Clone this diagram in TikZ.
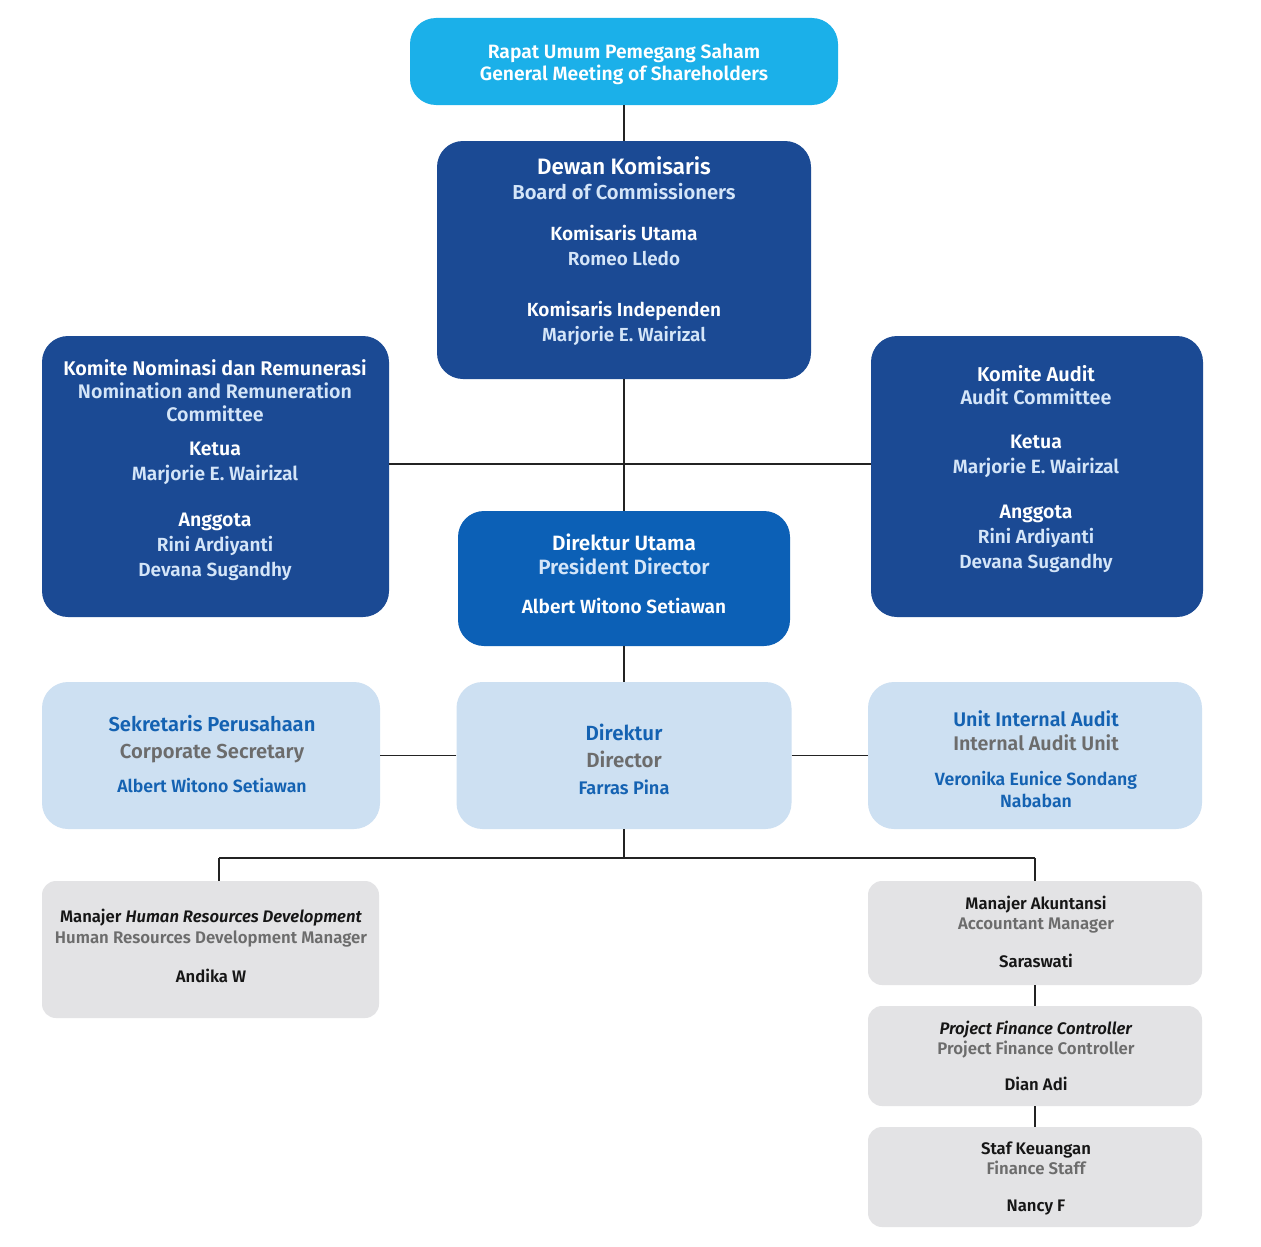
\documentclass[tikz,border=0pt]{standalone}
\usepackage{fontspec}
\setmainfont{Fira Sans}[BoldFont={Fira Sans SemiBold}, BoldItalicFont={Fira Sans SemiBold Italic}]
\definecolor{cyanc}{RGB}{27,176,233}
\definecolor{darkb}{RGB}{27,74,148}
\definecolor{pdb}{RGB}{12,96,182}
\definecolor{lightbox}{RGB}{205,224,242}
\definecolor{txtblue}{RGB}{20,98,178}
\definecolor{txtgray}{RGB}{108,108,108}
\definecolor{graybox}{RGB}{227,227,229}
\definecolor{lighttxt}{RGB}{212,229,248}
\definecolor{txtblack}{RGB}{22,22,22}
\definecolor{linec}{RGB}{35,35,35}
\newcounter{tlc}
\newcommand\tl[4]{\stepcounter{tlc}\node[#1] (tl\arabic{tlc}) at (#2,#3) {#4};}
\begin{document}
\begin{tikzpicture}[x=1pt,y=-1pt,
  box/.style={rectangle, draw=none, inner sep=0pt, rounded corners=26pt},
  gbox/.style={rectangle, draw=none, inner sep=0pt, rounded corners=14pt, fill=graybox},
  conn/.style={draw=linec, line width=1.4pt},
  base/.style={anchor=base, inner sep=0pt, font=\bfseries\fontsize{#1}{#1}\selectfont, yshift=-0.35*#1 pt},
  wt/.style={base=#1, text=white},
  lt/.style={base=#1, text=lighttxt},
  bt/.style={base=#1, text=txtblue},
  gt/.style={base=#1, text=txtgray},
  kt/.style={base=#1, text=txtblack},
]
\useasboundingbox (0,0) rectangle (1261,1247);
\fill[white] (0,0) rectangle (1261,1247);
% boxes
\node[box, fill=cyanc, minimum width=428pt, minimum height=87pt] (gms) at (624,61.5) {};
\node[box, fill=darkb, minimum width=374pt, minimum height=238pt] (boc) at (624,260) {};
\node[box, fill=darkb, minimum width=347pt, minimum height=281pt] (nrc) at (215.5,476.5) {};
\node[box, fill=darkb, minimum width=332pt, minimum height=281pt] (ac) at (1037,476.5) {};
\node[box, fill=pdb, minimum width=332pt, minimum height=135pt] (pd) at (624,578.5) {};
\node[box, fill=lightbox, minimum width=338pt, minimum height=147pt] (cs) at (211,755.5) {};
\node[box, fill=lightbox, minimum width=335pt, minimum height=147pt] (dir) at (624,755.5) {};
\node[box, fill=lightbox, minimum width=334pt, minimum height=147pt] (iau) at (1035,755.5) {};
\node[gbox, minimum width=337pt, minimum height=137pt] (hr) at (210.5,949.5) {};
\node[gbox, minimum width=334pt, minimum height=104pt] (am) at (1035,933) {};
\node[gbox, minimum width=334pt, minimum height=100pt] (pfc) at (1035,1056) {};
\node[gbox, minimum width=334pt, minimum height=100pt] (fs) at (1035,1177) {};
% connectors
\coordinate (hj) at (624,464);
\coordinate (bj) at (624,858);
\coordinate (hrj) at (219,858);
\draw[conn] (gms.south) -- (boc.north);
\draw[conn] (boc.south) -- (pd.north);
\draw[conn] (hj -| nrc.east) -- (hj -| ac.west);
\draw[conn] (pd.south) -- (dir.north);
\draw[conn] (dir.west) -- (cs.east);
\draw[conn] (dir.east) -- (iau.west);
\draw[conn] (dir.south) -- (bj);
\draw[conn] (hrj) -- (bj -| am.north);
\draw[conn] (hrj) -- (hrj |- hr.north);
\draw[conn] (bj -| am.north) -- (am.north);
\draw[conn] (am.south) -- (pfc.north);
\draw[conn] (pfc.south) -- (fs.north);
% GMS
\tl{wt=19.3}{624}{52}{Rapat Umum Pemegang Saham}
\tl{wt=19.3}{624}{74}{General Meeting of Shareholders}
% BOC
\tl{wt=22.3}{624}{167}{Dewan Komisaris}
\tl{lt=20.2}{624}{192}{Board of Commissioners}
\tl{wt=19.1}{624}{234}{Komisaris Utama}
\tl{lt=18.9}{624}{259}{Romeo Lledo}
\tl{wt=19}{624}{310}{Komisaris Independen}
\tl{lt=18.9}{624}{335}{Marjorie E. Wairizal}
% NRC
\tl{wt=19.8}{215}{369}{Komite Nominasi dan Remunerasi}
\tl{lt=19.6}{215}{392}{Nomination and Remuneration}
\tl{lt=19.6}{215}{415}{Committee}
\tl{wt=19.5}{215}{449}{Ketua}
\tl{lt=19.2}{215}{474}{Marjorie E. Wairizal}
\tl{wt=19.5}{215}{520}{Anggota}
\tl{lt=19}{215}{545}{Rini Ardiyanti}
\tl{lt=19}{215}{570}{Devana Sugandhy}
% AC
\tl{wt=20}{1036}{374}{Komite Audit}
\tl{lt=19.8}{1036}{398}{Audit Committee}
\tl{wt=19.5}{1036}{442}{Ketua}
\tl{lt=19.2}{1036}{467}{Marjorie E. Wairizal}
\tl{wt=19.5}{1036}{512}{Anggota}
\tl{lt=19}{1036}{537}{Rini Ardiyanti}
\tl{lt=19}{1036}{562}{Devana Sugandhy}
% PD
\tl{wt=20.7}{624}{543}{Direktur Utama}
\tl{lt=20.7}{624}{567}{President Director}
\tl{wt=19.1}{624}{607}{Albert Witono Setiawan}
% CS
\tl{bt=20.2}{212}{724}{Sekretaris Perusahaan}
\tl{gt=20.2}{212}{751}{Corporate Secretary}
\tl{bt=17.7}{212}{786}{Albert Witono Setiawan}
% Dir
\tl{bt=20.5}{624}{733}{Direktur}
\tl{gt=20.5}{624}{760}{Director}
\tl{bt=18.2}{624}{788}{Farras Pina}
% IAU
\tl{bt=19.7}{1036}{720}{Unit Internal Audit}
\tl{gt=19.7}{1036}{744}{Internal Audit Unit}
\tl{bt=17.7}{1036}{779}{Veronika Eunice Sondang}
\tl{bt=17.7}{1036}{801}{Nababan}
% HR
\tl{kt=16.7}{211}{917}{Manajer \textit{Human Resources Development}}
\tl{gt=16.8}{211}{938}{Human Resources Development Manager}
\tl{kt=16.7}{211}{977}{Andika W}
% AM
\tl{kt=16.7}{1036}{904}{Manajer Akuntansi}
\tl{gt=16.8}{1036}{924}{Accountant Manager}
\tl{kt=16.7}{1036}{962}{Saraswati}
% PFC
\tl{kt=16.7}{1036}{1029}{\textit{Project Finance Controller}}
\tl{gt=16.8}{1036}{1049}{Project Finance Controller}
\tl{kt=16.7}{1036}{1085}{Dian Adi}
% FS
\tl{kt=16.7}{1036}{1149}{Staf Keuangan}
\tl{gt=16.8}{1036}{1169}{Finance Staff}
\tl{kt=16.7}{1036}{1206}{Nancy F}
\end{tikzpicture}
\end{document}
